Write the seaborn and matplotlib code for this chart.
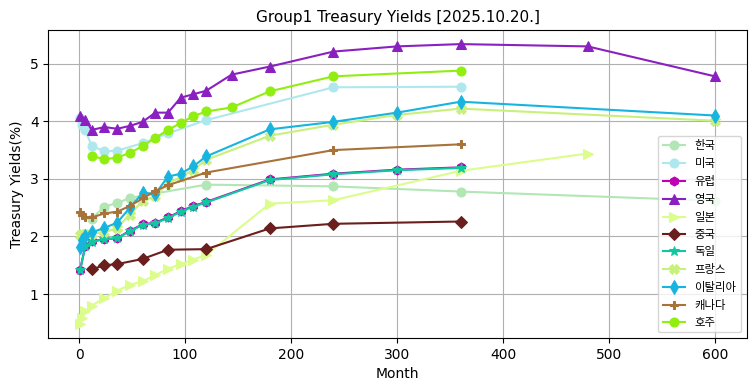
import matplotlib
matplotlib.use("Agg")
import matplotlib.pyplot as plt
import seaborn as sns
import pandas as pd

# ---- data (months, yields %) ----
kr_m = [12, 24, 36, 48, 120, 240, 360, 600]
kr_v = [2.31, 2.52, 2.58, 2.67, 2.90, 2.87, 2.78, 2.62]

us_m = [1, 3, 6, 12, 24, 36, 60, 84, 120, 240, 360]
us_v = [4.06, 3.93, 3.84, 3.57, 3.48, 3.49, 3.62, 3.79, 4.02, 4.59, 4.60]

eu_m = [1, 6, 12, 24, 36, 48, 60, 72, 84, 96, 108, 120, 180, 240, 300, 360]
eu_v = [1.42, 1.84, 1.92, 1.95, 1.97, 2.10, 2.21, 2.24, 2.33, 2.44, 2.53, 2.60, 2.99, 3.09, 3.16, 3.20]

uk_m = [1, 6, 12, 24, 36, 48, 60, 72, 84, 96, 108, 120, 144, 180, 240, 300, 360, 480, 600]
uk_v = [4.10, 4.03, 3.85, 3.90, 3.87, 3.92, 3.99, 4.15, 4.15, 4.41, 4.47, 4.53, 4.81, 4.95, 5.21, 5.30, 5.34, 5.30, 4.78]

jp_m = [1, 3, 6, 12, 24, 36, 48, 60, 72, 84, 96, 108, 120, 180, 240, 360, 480]
jp_v = [0.48, 0.58, 0.70, 0.80, 0.93, 1.06, 1.16, 1.22, 1.33, 1.44, 1.52, 1.60, 1.68, 2.57, 2.63, 3.14, 3.44]

cn_m = [12, 24, 36, 60, 84, 120, 180, 240, 360]
cn_v = [1.43, 1.50, 1.52, 1.61, 1.77, 1.78, 2.14, 2.22, 2.26]

de_m = [1, 6, 12, 24, 36, 48, 60, 72, 84, 96, 108, 120, 180, 240, 300, 360]
de_v = [1.41, 1.83, 1.91, 1.95, 1.97, 2.09, 2.20, 2.23, 2.32, 2.43, 2.52, 2.59, 2.98, 3.08, 3.15, 3.19]

fr_m = [1, 3, 6, 12, 24, 36, 48, 60, 72, 84, 96, 108, 120, 180, 240, 300, 360, 600]
fr_v = [2.02, 2.04, 2.05, 2.05, 2.07, 2.15, 2.38, 2.62, 2.70, 2.93, 3.03, 3.16, 3.33, 3.75, 3.94, 4.11, 4.22, 4.01]

it_m = [1, 3, 6, 12, 24, 36, 48, 60, 72, 84, 96, 108, 120, 180, 240, 300, 360, 600]
it_v = [1.81, 1.94, 2.01, 2.07, 2.15, 2.24, 2.50, 2.76, 2.74, 3.04, 3.09, 3.22, 3.39, 3.86, 3.99, 4.15, 4.34, 4.10]

ca_m = [1, 3, 6, 12, 24, 36, 48, 60, 72, 84, 120, 240, 360]
ca_v = [2.42, 2.37, 2.34, 2.33, 2.40, 2.43, 2.53, 2.66, 2.79, 2.89, 3.11, 3.50, 3.60]

au_m = [12, 24, 36, 48, 60, 72, 84, 96, 108, 120, 144, 180, 240, 360]
au_v = [3.40, 3.34, 3.37, 3.45, 3.57, 3.71, 3.85, 3.97, 4.09, 4.17, 4.24, 4.52, 4.78, 4.88]

countries = ["한국", "미국", "유럽", "영국", "일본", "중국", "독일", "프랑스", "이탈리아", "캐나다", "호주"]
months = [kr_m, us_m, eu_m, uk_m, jp_m, cn_m, de_m, fr_m, it_m, ca_m, au_m]
yields = [kr_v, us_v, eu_v, uk_v, jp_v, cn_v, de_v, fr_v, it_v, ca_v, au_v]

colors = ["#b2e6b4", "#aee8ee", "#c000b4", "#8a20c0", "#dcfc8c", "#6a1e1e",
          "#10c8a0", "#c8f07c", "#18b4e0", "#a8733a", "#90ee10"]
markers = ["o", "o", "h", "^", ">", "D", "*", "X", "d", "P", "o"]
msizes = [6.5, 6.5, 6.5, 6.5, 6.5, 6.5, 7, 6.5, 7, 6, 6.5]

rows = []
for c, ms, vs in zip(countries, months, yields):
    for m, v in zip(ms, vs):
        rows.append({"Country": c, "Month": m, "Yield": v})
df = pd.DataFrame(rows)

fig = plt.figure(figsize=(7.55, 3.91), dpi=100)
ax = fig.add_axes([0.064, 0.1355, 0.925, 0.7875])

for c, col, mk, sz in zip(countries, colors, markers, msizes):
    sub = df[df["Country"] == c]
    sns.lineplot(data=sub, x="Month", y="Yield", ax=ax, color=col, marker=mk,
                 markersize=sz, markeredgecolor=col, linewidth=1.5, label=c,
                 estimator=None, sort=False)

ax.grid(True, color="#b0b0b0", linewidth=0.8)
ax.set_title("Group1 Treasury Yields [2025.10.20.]", fontsize=11)
ax.set_xlabel("Month", fontsize=10)
ax.set_ylabel("Treasury Yields(%)", fontsize=10)
ax.set_xticks([0, 100, 200, 300, 400, 500, 600])
ax.set_yticks([1, 2, 3, 4, 5])

leg = ax.legend(loc="lower right", labelspacing=0.6,
                prop={"family": ["Noto Sans CJK KR", "DejaVu Sans"], "size": 8.2})

fig.savefig("out.png", dpi=100)
